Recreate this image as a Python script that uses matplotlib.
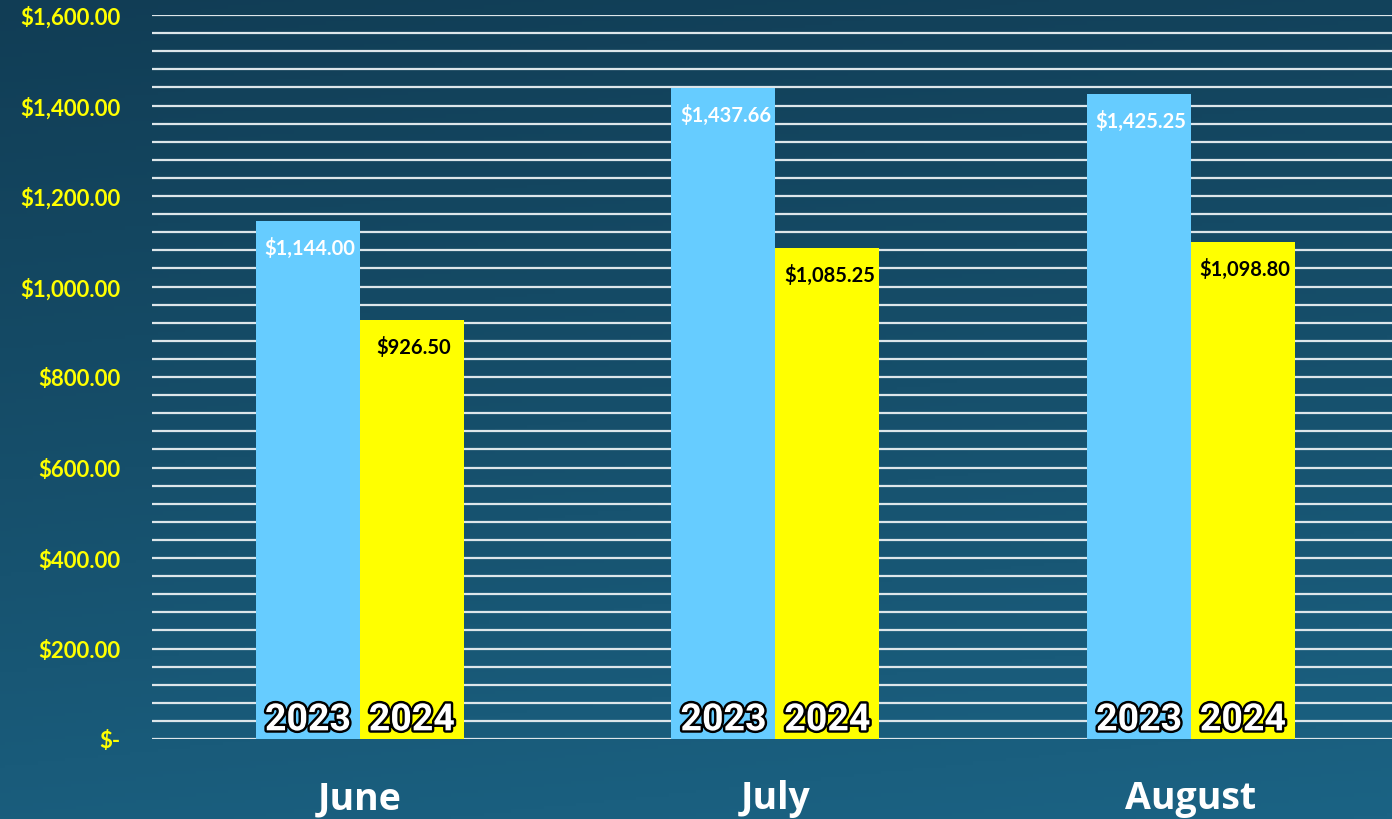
import matplotlib
matplotlib.use("Agg")
import matplotlib.pyplot as plt
import matplotlib.patheffects as pe
import numpy as np
from matplotlib.colors import LinearSegmentedColormap

months = ["June", "July", "August"]
years = ["2023", "2024"]
values_2023 = [1144.00, 1437.66, 1425.25]
values_2024 = [926.50, 1085.25, 1098.80]
label_2023 = ["$1,144.00", "$1,437.66", "$1,425.25"]
label_2024 = ["$926.50", "$1,085.25", "$1,098.80"]
yticks = [0, 200, 400, 600, 800, 1000, 1200, 1400, 1600]
ytick_labels = ["$-", "$200.00", "$400.00", "$600.00", "$800.00",
                "$1,000.00", "$1,200.00", "$1,400.00", "$1,600.00"]

W, H = 1392, 820
fig = plt.figure(figsize=(W/100, H/100), dpi=100)

# background gradient
bg = fig.add_axes([0, 0, 1, 1])
cmap = LinearSegmentedColormap.from_list("bg", ["#113d55", "#164f6b", "#1b6384"])
grad = np.linspace(0, 1, 256).reshape(-1, 1)
xg = np.linspace(0, 1, 256).reshape(1, -1)
img = grad * 0.85 + xg * 0.15
bg.imshow(img, aspect="auto", cmap=cmap, extent=[0, 1, 0, 1], origin="upper")
bg.axis("off")

left, right = 152 / W, 1392 / W
bottom, top = (H - 740) / H, (H - 16) / H
ax = fig.add_axes([left, bottom, right - left, top - bottom])
ax.patch.set_alpha(0)

x = np.arange(len(months))
bw = 0.25
ax.set_xlim(-0.5, 2.484)
ax.set_ylim(0, 1600)

for yv in np.arange(0, 1601, 40):
    ax.axhline(yv, color="#dde6ea", lw=1.6, zorder=1)

b1 = ax.bar(x - bw/2, values_2023, bw, color="#66ccff", zorder=2)
b2 = ax.bar(x + bw/2, values_2024, bw, color="#ffff00", zorder=2)

vfont = dict(family=["Lato", "DejaVu Sans"], fontweight="bold", fontsize=14.5)
for i in range(len(months)):
    ax.annotate(label_2023[i], (x[i] - bw/2, values_2023[i]), xytext=(1.5, -19),
                textcoords="offset points", ha="center", va="center",
                color="white", zorder=4, **vfont)
    ax.annotate(label_2024[i], (x[i] + bw/2, values_2024[i]), xytext=(1.5, -19),
                textcoords="offset points", ha="center", va="center",
                color="black", zorder=4, **vfont)
    for off, yr in ((-bw/2, years[0]), (bw/2, years[1])):
        t = ax.annotate(yr, (x[i] + off, 0), xytext=(0, 0.5),
                        textcoords="offset points", ha="center", va="bottom",
                        color="white", fontsize=27, fontweight="bold",
                        family=["Roboto", "DejaVu Sans"], zorder=5)
        t.set_path_effects([pe.withStroke(linewidth=3.5, foreground="black")])

ax.set_xticks(x)
ax.set_xticklabels(months, color="white", fontsize=27, fontweight="bold",
                   family=["Open Sans", "DejaVu Sans"])
ax.tick_params(axis="x", length=0, pad=29)
ax.set_yticks(yticks)
ax.set_yticklabels(ytick_labels, color="#ffff00", fontsize=16, fontweight="bold",
                   family=["Lato", "DejaVu Sans"])
ax.tick_params(axis="y", length=0, pad=23)
for s in ax.spines.values():
    s.set_visible(False)

fig.savefig("out.png", dpi=100)
